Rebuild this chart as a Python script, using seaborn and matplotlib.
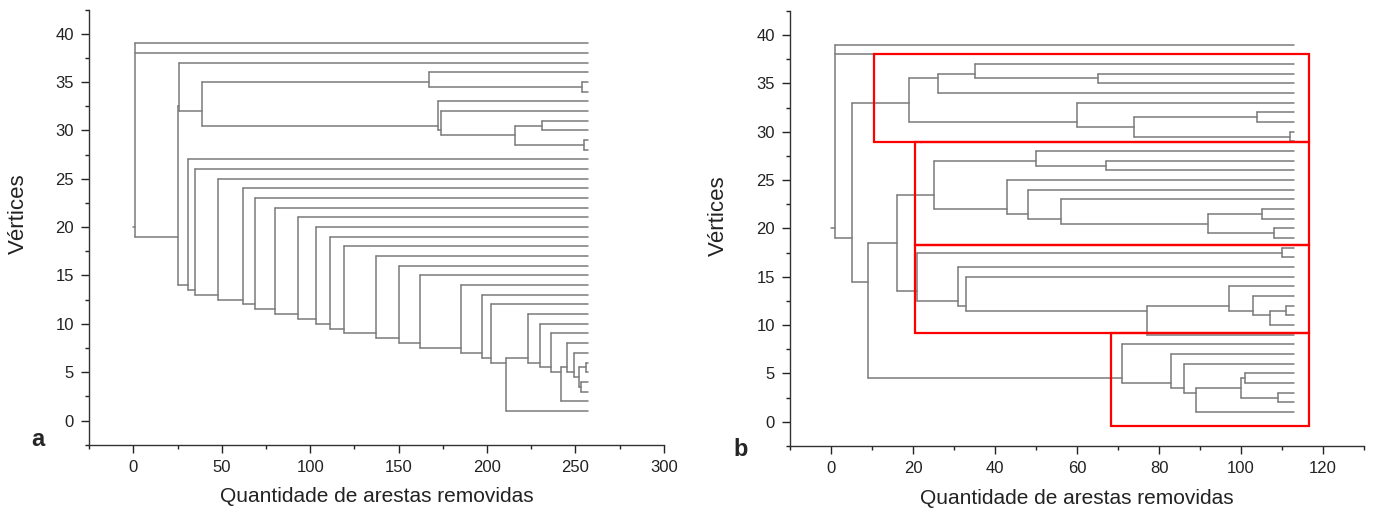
import numpy as np
import pandas as pd
import matplotlib
matplotlib.use("Agg")
import matplotlib.pyplot as plt
from matplotlib.patches import Rectangle
import seaborn as sns

# ---------------- data ----------------
# Each internal node: (number of removed edges at the split, children).
# Integer children are vertices (their number is their position on the y axis).
TREE_A = {
    "root": (1, [39, 38, "B"]),
    "B": (25, ["A", "L27"]),
    "A": (26, [37, "C"]),
    "C": (39, ["E", "F"]),
    "E": (167, [36, "G"]),
    "G": (254, [35, 34]),
    "F": (172, [33, "H"]),
    "H": (174, [32, "I"]),
    "I": (216, ["J", "K"]),
    "J": (231, [31, 30]),
    "K": (255, [29, 28]),
    "L27": (31, [27, "L26"]),
    "L26": (35, [26, "L25"]),
    "L25": (48, [25, "L24"]),
    "L24": (62, [24, "L23"]),
    "L23": (69, [23, "L22"]),
    "L22": (80, [22, "L21"]),
    "L21": (93, [21, "L20"]),
    "L20": (103, [20, "L19"]),
    "L19": (111, [19, "L18"]),
    "L18": (119, [18, "L17"]),
    "L17": (137, [17, "L16"]),
    "L16": (150, [16, "L15"]),
    "L15": (162, [15, "L14"]),
    "L14": (185, [14, "L13"]),
    "L13": (197, [13, "L12"]),
    "L12": (202, [12, "M"]),
    "M": (211, ["N", 1]),
    "N": (223, [11, "N10"]),
    "N10": (230, [10, "N9"]),
    "N9": (236, [9, "P"]),
    "P": (242, ["R", 2]),
    "R": (245, [8, "S"]),
    "S": (249, [7, "T"]),
    "T": (252, ["U", "V"]),
    "U": (256, [6, 5]),
    "V": (253, [4, 3]),
}
LEAF_END_A = 257

TREE_B = {
    "root": (1, [39, 38, "B"]),
    "B": (5, ["A", "U"]),
    "A": (19, ["E", "F"]),
    "E": (26, ["G", 34]),
    "G": (35, [37, "H"]),
    "H": (65, [36, 35]),
    "F": (60, [33, "I"]),
    "I": (74, ["J", "K"]),
    "J": (104, [32, 31]),
    "K": (112, [30, 29]),
    "U": (9, ["V", "T0"]),
    "V": (16, ["W0", "Y0"]),
    "W0": (25, ["W1", "X1"]),
    "W1": (50, [28, "W2"]),
    "W2": (67, [27, 26]),
    "X1": (43, [25, "X2"]),
    "X2": (48, [24, "X3"]),
    "X3": (56, [23, "X4"]),
    "X4": (92, ["X5", "X6"]),
    "X5": (105, [22, 21]),
    "X6": (108, [20, 19]),
    "Y0": (21, ["Z", "Y1"]),
    "Z": (110, [18, 17]),
    "Y1": (31, [16, "Y2"]),
    "Y2": (33, [15, "Y3"]),
    "Y3": (77, ["Y4", 9]),
    "Y4": (97, [14, "Y5"]),
    "Y5": (103, [13, "Y6"]),
    "Y6": (107, ["Y7", 10]),
    "Y7": (111, [12, 11]),
    "T0": (71, [8, "T1"]),
    "T1": (83, [7, "T2"]),
    "T2": (86, [6, "T3"]),
    "T3": (89, ["T4", 1]),
    "T4": (100, ["T5", "T6"]),
    "T5": (101, [5, 4]),
    "T6": (109, [3, 2]),
}
LEAF_END_B = 113

# community boxes drawn on panel b
BOX_X0 = [10.5, 20.5, 20.5, 68.3]
BOX_X1 = [116.5, 116.5, 116.5, 116.5]
BOX_Y0 = [28.9, 18.3, 9.2, -0.4]
BOX_Y1 = [38.0, 28.9, 18.3, 9.2]

XTICKS_A = [0, 50, 100, 150, 200, 250, 300]
XTICKS_B = [0, 20, 40, 60, 80, 100, 120]
YTICKS = [0, 5, 10, 15, 20, 25, 30, 35, 40]
XLABEL = "Quantidade de arestas removidas"
YLABEL = "Vértices"


# ---------------- helpers ----------------
def leaf_list(tree, n):
    if isinstance(n, int):
        return [n]
    out = []
    for c in tree[n][1]:
        out += leaf_list(tree, c)
    return out


def tree_frame(tree, leaf_end):
    rows = []
    sid = 0

    def ypos(n):
        return float(np.mean(leaf_list(tree, n)))

    def xpos(n):
        return leaf_end if isinstance(n, int) else tree[n][0]

    for name, (x, ch) in tree.items():
        ys = [ypos(c) for c in ch]
        rows += [(sid, x, min(ys)), (sid, x, max(ys))]
        sid += 1
        for c, yc in zip(ch, ys):
            rows += [(sid, x, yc), (sid, xpos(c), yc)]
            sid += 1
    xr = tree["root"][0]
    yr = ypos("root")
    rows += [(sid, xr - 1, yr), (sid, xr, yr)]
    return pd.DataFrame(rows, columns=["seg", "x", "y"])


# ---------------- figure ----------------
sns.set_style("ticks")
plt.rcParams["font.family"] = ["Liberation Sans", "DejaVu Sans"]

fig = plt.figure(figsize=(13.74, 5.14), dpi=100)
ax_a = fig.add_axes([0.065, 0.1348, 0.4181, 0.8467])
ax_b = fig.add_axes([0.575, 0.1323, 0.4178, 0.8467])

LINE_COLOR = "#7a7a7a"

for ax, tree, end, xt, xlim, minor in [
    (ax_a, TREE_A, LEAF_END_A, XTICKS_A, (-25, 300), 25),
    (ax_b, TREE_B, LEAF_END_B, XTICKS_B, (-10, 130), 10),
]:
    df = tree_frame(tree, end)
    sns.lineplot(data=df, x="x", y="y", units="seg", estimator=None,
                 sort=False, color=LINE_COLOR, lw=1.1, ax=ax, legend=False)
    ax.set_xlim(*xlim)
    ax.set_ylim(-2.5, 42.5)
    ax.set_xticks(xt)
    ax.set_xticks(np.arange(xlim[0], xlim[1] + 0.1, minor), minor=True)
    ax.set_yticks(YTICKS)
    ax.set_yticks(np.arange(-2.5, 42.6, 2.5), minor=True)
    ax.tick_params(axis="both", which="major", direction="out", length=6,
                   width=1, labelsize=12, colors="#222222", pad=5)
    ax.tick_params(axis="both", which="minor", direction="out", length=3,
                   width=1, colors="#222222")
    for s in ["top", "right"]:
        ax.spines[s].set_visible(False)
    for s in ["left", "bottom"]:
        ax.spines[s].set_color("#333333")
        ax.spines[s].set_linewidth(1.0)
    ax.set_xlabel(XLABEL, fontsize=15, labelpad=9, color="#222222")
    ax.set_ylabel(YLABEL, fontsize=16, color="#222222")
    ax.yaxis.set_label_coords(-0.106, 0.53)
    ax.set_facecolor("white")

for x0, x1, y0, y1 in zip(BOX_X0, BOX_X1, BOX_Y0, BOX_Y1):
    ax_b.add_patch(Rectangle((x0, y0), x1 - x0, y1 - y0, fill=False,
                             edgecolor="red", lw=1.6, zorder=5))

fig.text(38 / 1374, 1 - 440 / 514, "a", fontsize=17, fontweight="bold",
         ha="center", va="center")
fig.text(741 / 1374, 1 - 450 / 514, "b", fontsize=17, fontweight="bold",
         ha="center", va="center")

fig.savefig("out.png", dpi=100, facecolor="white")
